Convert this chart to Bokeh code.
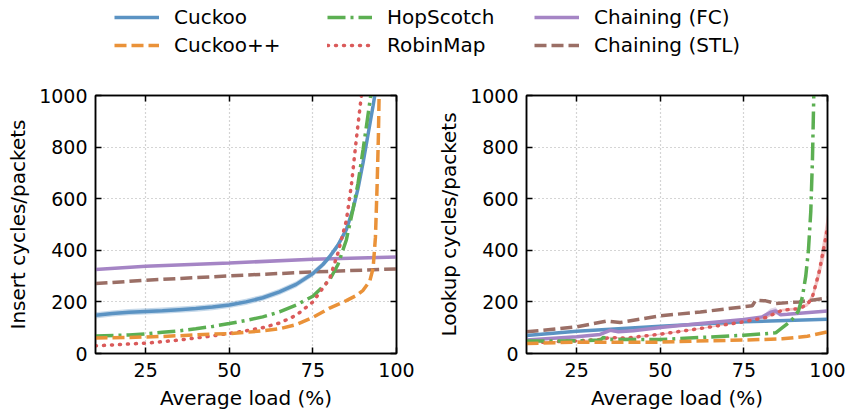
from bokeh.plotting import figure
from bokeh.layouts import column, row
from bokeh.models import Range1d, FixedTicker, LinearAxis, Legend, LegendItem
from bokeh.embed import file_html
from bokeh.resources import INLINE

# ---------------- data ----------------
# Insert cycles/packets vs average load (%)
ins_cuckoo_x = [10, 15, 20, 25, 30, 35, 40, 45, 50, 55, 60, 65, 70, 75, 78, 80, 82.5, 85, 87, 88.5, 90, 91.5, 93, 93.5]
ins_cuckoo_y = [148, 155, 160, 163, 166, 170, 174, 180, 188, 200, 216, 239, 268, 310, 345, 375, 420, 480, 560, 640, 740, 850, 960, 1000]
ins_cuckoo_err = [12, 12, 12, 12, 12, 12, 12, 12, 12, 12, 12, 12, 12, 12, 12, 12, 12, 12, 12, 12, 12, 12, 12, 12]

ins_cuckoopp_x = [10, 20, 25, 30, 35, 40, 45, 50, 55, 60, 65, 70, 75, 80, 85, 88, 90, 92, 93, 93.7, 94.2, 94.6, 94.8]
ins_cuckoopp_y = [60, 62, 64, 66, 69, 72, 75, 77, 82, 88, 96, 112, 140, 176, 205, 225, 245, 280, 330, 450, 650, 850, 1000]

ins_hop_x = [10, 20, 25, 30, 35, 40, 45, 50, 55, 60, 65, 70, 75, 80, 82.5, 85, 87, 88.5, 90, 91, 92.3]
ins_hop_y = [68, 72, 76, 82, 88, 96, 105, 116, 128, 142, 161, 188, 222, 285, 345, 440, 560, 660, 790, 880, 1000]

ins_robin_x = [10, 15, 20, 25, 30, 35, 40, 45, 50, 55, 60, 65, 70, 75, 80, 82.5, 85, 86.5, 88, 89.5]
ins_robin_y = [30, 33, 37, 40, 46, 52, 60, 68, 78, 88, 100, 118, 148, 200, 290, 390, 515, 652, 832, 1000]

ins_fc_x = [10, 25, 50, 75, 100]
ins_fc_y = [326, 338, 351, 365, 374]

ins_stl_x = [10, 25, 50, 75, 100]
ins_stl_y = [271, 284, 301, 316, 328]

# Lookup cycles/packets vs average load (%)
lkp_cuckoo_x = [10, 25, 50, 75, 100]
lkp_cuckoo_y = [70, 86, 106, 123, 133]

lkp_cuckoopp_x = [10, 25, 50, 60, 75, 86.5, 94, 100]
lkp_cuckoopp_y = [39, 44, 44, 48, 52, 57, 67, 84]

lkp_hop_x = [10, 25, 32, 33, 35, 40, 50, 62, 75, 84.5, 86.5, 88.5, 90, 91.3, 92.5, 93.5, 94.3, 95, 95.5, 95.9]
lkp_hop_y = [48, 49, 52, 62, 54, 54, 54, 62, 71, 80, 100, 120, 140, 165, 220, 300, 400, 550, 750, 1000]

lkp_robin_x = [10, 25, 32, 35, 40, 50, 62, 75, 81.5, 86.5, 91.5, 94, 95.5, 97.5, 99.5, 100]
lkp_robin_y = [41, 49, 54, 62, 60, 75, 97, 123, 139, 168, 174, 190, 220, 316, 450, 490]
lkp_robin_err = [3, 3, 3, 3, 3, 3, 3, 3, 3, 5, 5, 8, 15, 30, 55, 60]

lkp_fc_x = [10, 25, 32, 35, 37.5, 42, 50, 62, 75, 80.5, 83, 84.5, 86, 88, 100]
lkp_fc_y = [52, 65, 74, 90, 84, 88, 101, 116, 132, 142, 160, 165, 150, 152, 165]
lkp_fc_err = [3, 3, 4, 6, 4, 3, 3, 3, 3, 5, 14, 14, 6, 3, 3]

lkp_stl_x = [10, 25, 30, 34, 38, 50, 62, 75, 77.5, 78.5, 81.5, 84.5, 91.5, 100]
lkp_stl_y = [84, 103, 116, 126, 120, 146, 161, 181, 185, 206, 204, 194, 200, 215]

x_ticks = [25, 50, 75, 100]
y_ticks = [0, 200, 400, 600, 800, 1000]
series_names = ["Cuckoo", "Cuckoo++", "HopScotch", "RobinMap", "Chaining (FC)", "Chaining (STL)"]

# ---------------- styles ----------------
COL = {"Cuckoo": "#5b93c3", "Cuckoo++": "#ea9239", "HopScotch": "#5caf52",
       "RobinMap": "#da5a5a", "Chaining (FC)": "#a585c5", "Chaining (STL)": "#9b6f66"}
DASH = {"Cuckoo": "solid", "Cuckoo++": "12 5", "HopScotch": "18 5 3 5",
        "RobinMap": "1 7", "Chaining (FC)": "solid", "Chaining (STL)": "12 5"}
CAP = {"RobinMap": "round"}
LW = 3.5
FONT = "DejaVu Sans"


def make_plot(ylabel, series, bands, width, bl, br):
    p = figure(width=width, height=335, output_backend="svg", toolbar_location=None,
               x_range=Range1d(10, 100), y_range=Range1d(0, 1000),
               min_border_left=bl, min_border_right=br, min_border_top=15, min_border_bottom=62)
    p.outline_line_color = "black"
    p.outline_line_width = 1.5
    p.background_fill_color = "white"
    p.border_fill_color = "white"
    for ax, tk in ((p.xaxis[0], x_ticks), (p.yaxis[0], y_ticks)):
        ax.ticker = FixedTicker(ticks=tk)
        ax.major_tick_in = 6
        ax.major_tick_out = 0
        ax.major_tick_line_width = 1.5
        ax.minor_tick_line_color = None
        ax.axis_line_width = 1.5
        ax.major_label_text_font = FONT
        ax.major_label_text_font_size = "19px"
        ax.major_label_text_color = "black"
        ax.axis_label_text_font = FONT
        ax.axis_label_text_font_size = "20px"
        ax.axis_label_text_font_style = "normal"
        ax.axis_label_text_color = "black"
    p.xaxis.axis_label = "Average load (%)"
    p.yaxis.axis_label = ylabel
    p.xaxis.major_label_standoff = 9
    p.yaxis.major_label_standoff = 8
    p.xaxis.axis_label_standoff = 6
    p.yaxis.axis_label_standoff = 6
    # tick marks (no labels) on the right and top
    for side, tk in (("right", y_ticks), ("above", x_ticks)):
        a = LinearAxis(ticker=FixedTicker(ticks=tk), major_tick_in=6, major_tick_out=0,
                       major_tick_line_width=1.5, minor_tick_line_color=None,
                       major_label_text_font_size="1px", major_label_text_color=None,
                       major_label_text_alpha=0, axis_line_width=1.5,
                       major_label_standoff=0)
        p.add_layout(a, side)
    p.xgrid.ticker = FixedTicker(ticks=[25, 50, 75])
    p.ygrid.ticker = FixedTicker(ticks=[200, 400, 600, 800])
    for g in (p.xgrid[0], p.ygrid[0]):
        g.grid_line_color = "#aaaaaa"
        g.grid_line_dash = "1 3"
        g.grid_line_width = 1.2
    for name, x, y1, y2 in bands:
        p.varea(x=x, y1=y1, y2=y2, fill_color=COL[name], fill_alpha=0.35)
    for name, x, y in series:
        p.line(x, y, line_color=COL[name], line_width=LW, line_dash=DASH[name],
               line_cap=CAP.get(name, "butt"))
    return p


def pm(y, e, s):
    return [a + s * b for a, b in zip(y, e)]


p1 = make_plot("Insert cycles/packets",
               [("Chaining (STL)", ins_stl_x, ins_stl_y), ("Chaining (FC)", ins_fc_x, ins_fc_y),
                ("Cuckoo", ins_cuckoo_x, ins_cuckoo_y), ("HopScotch", ins_hop_x, ins_hop_y),
                ("RobinMap", ins_robin_x, ins_robin_y), ("Cuckoo++", ins_cuckoopp_x, ins_cuckoopp_y)],
               [("Cuckoo", ins_cuckoo_x, pm(ins_cuckoo_y, ins_cuckoo_err, -1), pm(ins_cuckoo_y, ins_cuckoo_err, 1))],
               430, 95, 34)
p2 = make_plot("Lookup cycles/packets",
               [("Chaining (STL)", lkp_stl_x, lkp_stl_y), ("Cuckoo", lkp_cuckoo_x, lkp_cuckoo_y),
                ("Chaining (FC)", lkp_fc_x, lkp_fc_y), ("RobinMap", lkp_robin_x, lkp_robin_y),
                ("HopScotch", lkp_hop_x, lkp_hop_y), ("Cuckoo++", lkp_cuckoopp_x, lkp_cuckoopp_y)],
               [("RobinMap", lkp_robin_x, pm(lkp_robin_y, lkp_robin_err, -1), pm(lkp_robin_y, lkp_robin_err, 1)),
                ("Chaining (FC)", lkp_fc_x, pm(lkp_fc_y, lkp_fc_err, -1), pm(lkp_fc_y, lkp_fc_err, 1))],
               419, 96, 22)

# ---------------- legend strip ----------------
lg = figure(width=849, height=80, output_backend="svg", toolbar_location=None,
            x_range=Range1d(0, 1), y_range=Range1d(0, 1),
            min_border=0, min_border_left=0, min_border_right=0, min_border_top=0, min_border_bottom=0)
lg.axis.visible = False
lg.xgrid.visible = False
lg.ygrid.visible = False
lg.outline_line_color = None
rends = {}
for name in series_names:
    # placeholder renderer lying outside the visible range; only its legend glyph shows
    rends[name] = lg.line(x=[5, 6], y=[5, 6], line_color=COL[name], line_width=LW, line_dash=DASH[name],
                          line_cap=CAP.get(name, "butt"))

cols = [("Cuckoo", "Cuckoo++"), ("HopScotch", "RobinMap"), ("Chaining (FC)", "Chaining (STL)")]
xs = [114, 327, 534]
for (a, b), x0 in zip(cols, xs):
    leg = Legend(items=[LegendItem(label=a, renderers=[rends[a]]), LegendItem(label=b, renderers=[rends[b]])],
                 location=(x0, 23), orientation="vertical", margin=0, padding=0, spacing=4,
                 glyph_width=45, glyph_height=24, label_height=24, label_standoff=15,
                 label_text_font=FONT, label_text_font_size="20px", label_text_color="black",
                 border_line_alpha=0, background_fill_alpha=0)
    lg.add_layout(leg, "center")

layout = column(lg, row(p1, p2), spacing=0)
open("out.html", "w").write(file_html(layout, INLINE))
